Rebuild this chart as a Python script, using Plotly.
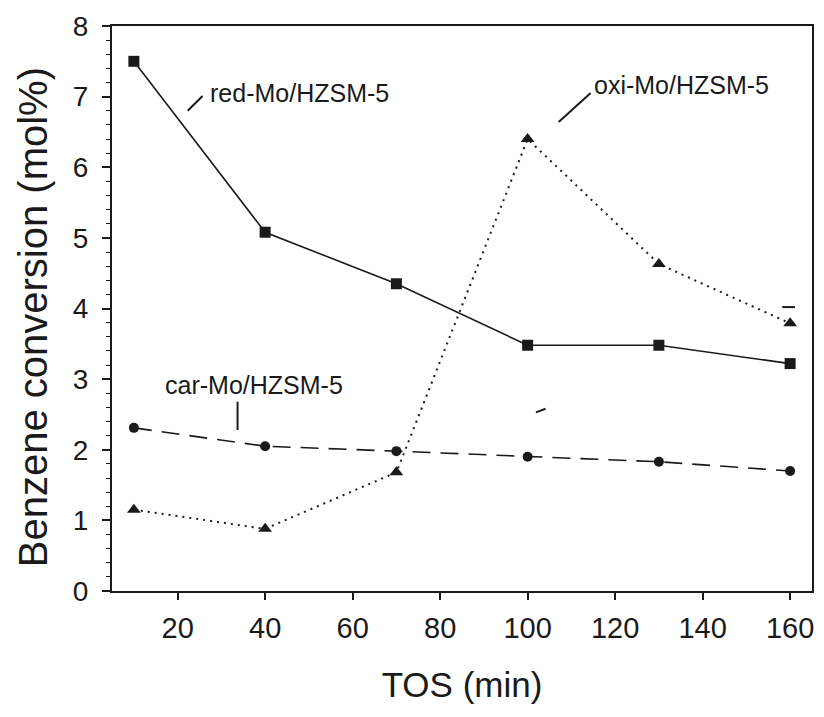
import plotly.graph_objects as go

tos = [10, 40, 70, 100, 130, 160]
red_mo = [7.50, 5.08, 4.35, 3.48, 3.48, 3.22]
oxi_mo = [1.15, 0.88, 1.68, 6.40, 4.63, 3.79]
car_mo = [2.31, 2.05, 1.98, 1.90, 1.83, 1.70]

x_ticks = [20, 40, 60, 80, 100, 120, 140, 160]
y_ticks = [0, 1, 2, 3, 4, 5, 6, 7, 8]

FONT = "Liberation Sans, Arial, sans-serif"
INK = "#1a1a1a"

fig = go.Figure()
fig.add_trace(go.Scatter(x=tos, y=red_mo, mode="lines+markers", name="red-Mo/HZSM-5",
                         line=dict(color=INK, width=1.6),
                         marker=dict(symbol="square", size=11, color=INK)))
fig.add_trace(go.Scatter(x=tos, y=oxi_mo, mode="lines+markers", name="oxi-Mo/HZSM-5",
                         line=dict(color=INK, width=2, dash="2px,5px"),
                         marker=dict(symbol="triangle-up", size=12, color=INK)))
fig.add_trace(go.Scatter(x=tos, y=car_mo, mode="lines+markers", name="car-Mo/HZSM-5",
                         line=dict(color=INK, width=1.6, dash="18px,10px"),
                         marker=dict(symbol="circle", size=10, color=INK)))

# annotation texts
fig.add_annotation(x=26.9, y=7.05, text="red-Mo/HZSM-5", showarrow=False,
                   xanchor="left", yanchor="middle", font=dict(family=FONT, size=25, color=INK))
fig.add_annotation(x=114.6, y=7.16, text="oxi-Mo/HZSM-5", showarrow=False,
                   xanchor="left", yanchor="middle", font=dict(family=FONT, size=25, color=INK))
fig.add_annotation(x=37.4, y=2.92, text="car-Mo/HZSM-5", showarrow=False,
                   xanchor="center", yanchor="middle", font=dict(family=FONT, size=25, color=INK))

# y-axis title placed as rotated text
fig.add_annotation(x=-0.1125, y=0.485, xref="paper", yref="paper",
                   text="Benzene conversion (mol%)", textangle=-90, showarrow=False,
                   xanchor="center", yanchor="middle", font=dict(family=FONT, size=40, color=INK))

# leader lines and stray marks
segs = [
    (22.3, 6.80, 25.7, 7.01),
    (107.1, 6.64, 114.4, 7.05),
    (33.7, 2.68, 33.7, 2.28),
    (101.9, 2.53, 104.1, 2.58),
    (158.2, 4.02, 161.1, 4.02),
]
for x0, y0, x1, y1 in segs:
    fig.add_shape(type="line", x0=x0, y0=y0, x1=x1, y1=y1, xref="x", yref="y",
                  line=dict(color=INK, width=2))

fig.update_layout(
    width=824, height=717,
    margin=dict(l=112, r=10, t=26, b=126),
    paper_bgcolor="white", plot_bgcolor="white",
    showlegend=False,
    font=dict(family=FONT, color=INK),
)
fig.update_xaxes(
    range=[5, 165], tickvals=x_ticks, ticks="outside", ticklen=7, tickwidth=1.5,
    tickcolor=INK, showline=True, linecolor=INK, linewidth=2, mirror=True,
    showgrid=False, zeroline=False, tickfont=dict(size=29, family=FONT, color=INK),
    ticklabelstandoff=3,
    title=dict(text="TOS (min)", font=dict(size=35, family=FONT, color=INK), standoff=30),
)
fig.update_yaxes(
    range=[0, 8], tickvals=y_ticks, ticks="outside", ticklen=8, tickwidth=1.5,
    tickcolor=INK, showline=True, linecolor=INK, linewidth=2, mirror=True,
    showgrid=False, zeroline=False, tickfont=dict(size=28, family=FONT, color=INK),
    ticklabelstandoff=8,
    minor=dict(ticks="outside", ticklen=4, tickwidth=1, tickcolor=INK, dtick=0.2, showgrid=False),
)

fig.write_html("out.html")
